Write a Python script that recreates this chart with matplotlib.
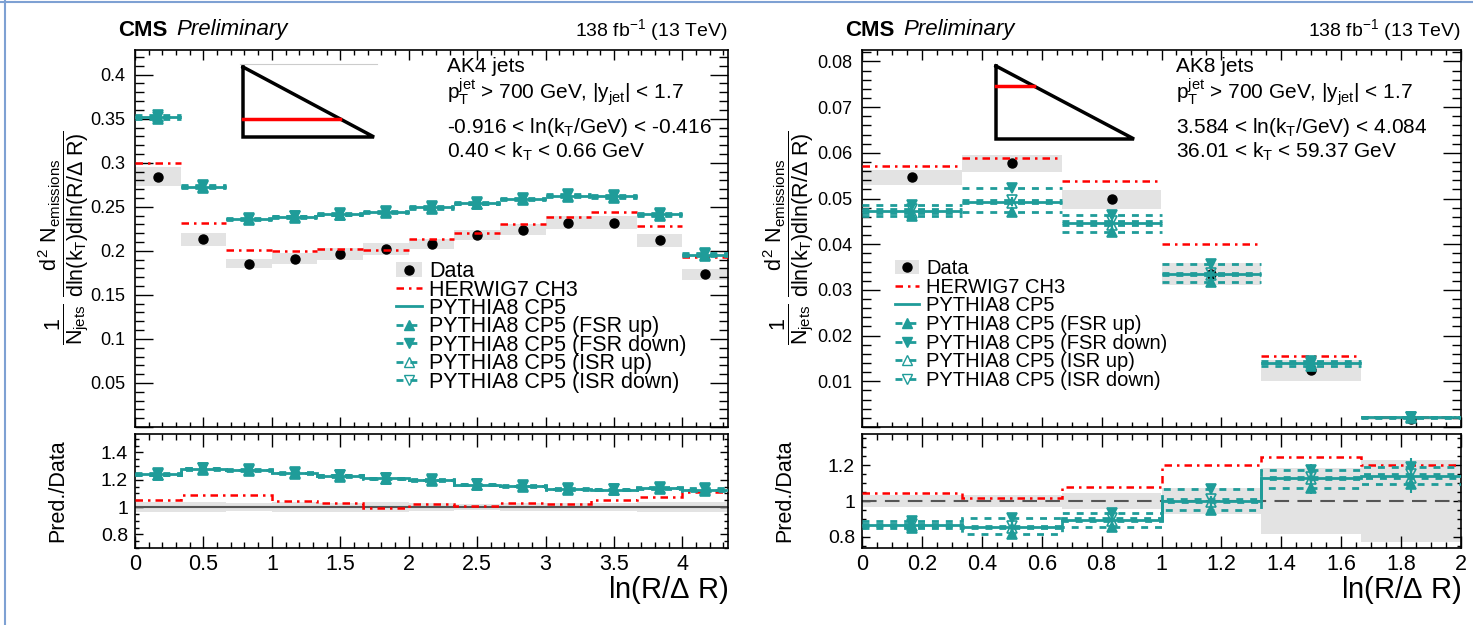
import matplotlib as mpl
import matplotlib.pyplot as plt
import numpy as np
from matplotlib.lines import Line2D
from matplotlib.patches import Patch
from matplotlib.ticker import MultipleLocator, FormatStrFormatter

plt.rcParams['font.family'] = ['Liberation Sans', 'DejaVu Sans']
plt.rcParams['mathtext.fontset'] = 'custom'
plt.rcParams['mathtext.rm'] = 'Liberation Sans'
plt.rcParams['mathtext.it'] = 'Liberation Sans'
plt.rcParams['mathtext.bf'] = 'Liberation Sans:bold'

TEAL = '#1f9c99'
RED = '#ff0000'
GREY = '#e3e3e3'
HERWIG_LS = (0, (3, 2, 1, 2))
DASH_LS = (0, (2.5, 2.5))

W, H = 1473, 625

# ---- AK4 panel, -0.916 < ln(kT/GeV) < -0.416 ----
ak4_edges = np.arange(14) / 3
ak4_data = [0.284, 0.213, 0.1855, 0.191, 0.1965, 0.202, 0.208, 0.218, 0.224, 0.232, 0.232, 0.212, 0.1735]
ak4_data_unc = [0.0107, 0.0073, 0.0054, 0.0065, 0.0065, 0.0068, 0.0060, 0.0055, 0.0065, 0.0075, 0.0075, 0.0075, 0.0063]
ak4_herwig = [0.2995, 0.2315, 0.2015, 0.1995, 0.2020, 0.2010, 0.2130, 0.2202, 0.2307, 0.2380, 0.2445, 0.2280, 0.1930]
ak4_pythia = [0.3520, 0.2730, 0.2360, 0.2389, 0.2416, 0.2443, 0.2492, 0.2538, 0.2588, 0.2626, 0.2618, 0.2416, 0.1957]
ak4_fsr_up = [0.3500, 0.2715, 0.2348, 0.2377, 0.2404, 0.2431, 0.2480, 0.2526, 0.2575, 0.2612, 0.2604, 0.2400, 0.1938]
ak4_fsr_dn = [0.3540, 0.2745, 0.2372, 0.2401, 0.2428, 0.2455, 0.2504, 0.2550, 0.2601, 0.2640, 0.2632, 0.2432, 0.1978]
ak4_isr_up = [0.3515, 0.2725, 0.2356, 0.2385, 0.2412, 0.2440, 0.2489, 0.2535, 0.2585, 0.2622, 0.2614, 0.2412, 0.1952]
ak4_isr_dn = [0.3525, 0.2735, 0.2364, 0.2393, 0.2420, 0.2446, 0.2495, 0.2541, 0.2591, 0.2630, 0.2622, 0.2420, 0.1962]
ak4_mc_unc = [0.0030, 0.0025, 0.0022, 0.0022, 0.0022, 0.0022, 0.0022, 0.0022, 0.0022, 0.0024, 0.0024, 0.0024, 0.0030]

# ---- AK8 panel, 3.584 < ln(kT/GeV) < 4.084 ----
ak8_edges = np.arange(7) / 3
ak8_data = [0.0546, 0.0577, 0.0498, 0.0334, 0.0124, 0.00185]
ak8_data_unc = [0.0017, 0.0019, 0.0021, 0.0024, 0.0023, 0.00042]
ak8_herwig = [0.0571, 0.0588, 0.0538, 0.0401, 0.01545, 0.00222]
ak8_pythia = [0.0473, 0.0493, 0.0446, 0.0334, 0.0140, 0.00211]
ak8_fsr_up = [0.0462, 0.0471, 0.0426, 0.0317, 0.0133, 0.00203]
ak8_fsr_dn = [0.0485, 0.0522, 0.0465, 0.0356, 0.01455, 0.00220]
ak8_isr_up = [0.0469, 0.0490, 0.0442, 0.0332, 0.0139, 0.00209]
ak8_isr_dn = [0.0477, 0.0497, 0.0450, 0.0337, 0.0141, 0.00213]
ak8_mc_unc = [0.0006, 0.0006, 0.0006, 0.0006, 0.0004, 0.0001]

legend_labels = ['Data', 'HERWIG7 CH3', 'PYTHIA8 CP5', 'PYTHIA8 CP5 (FSR up)',
                 'PYTHIA8 CP5 (FSR down)', 'PYTHIA8 CP5 (ISR up)', 'PYTHIA8 CP5 (ISR down)']
var_markers = [('^', True), ('v', True), ('^', False), ('v', False)]


def fig_box(x0, y0, x1, y1):
    # pixel box (top-left origin) -> figure fraction rect
    return [x0 / W, 1 - y1 / H, (x1 - x0) / W, (y1 - y0) / H]


def style_axes(ax, xlen, ylen):
    ax.tick_params(which='both', direction='in', top=True, right=True, width=1)
    ax.tick_params(axis='x', which='major', length=xlen)
    ax.tick_params(axis='x', which='minor', length=xlen / 2)
    ax.tick_params(axis='y', which='major', length=ylen)
    ax.tick_params(axis='y', which='minor', length=ylen / 2)
    for s in ax.spines.values():
        s.set_linewidth(1.2)


def draw_top(ax, edges, data, data_unc, herwig, pythia, variations, mc_unc):
    lo, hi = edges[:-1], edges[1:]
    centers = 0.5 * (lo + hi)
    d = np.asarray(data)
    du = np.asarray(data_unc)
    ax.bar(centers, 2 * du, bottom=d - du, width=hi - lo, color=GREY, zorder=1)
    ax.plot(centers, d, 'o', color='k', ms=6.5, zorder=2)
    ax.hlines(herwig, lo, hi, colors=RED, linestyles=[HERWIG_LS], lw=1.8, zorder=3)
    ax.hlines(pythia, lo, hi, colors=TEAL, lw=2, zorder=3)
    for vals, (m, filled) in zip(variations, var_markers):
        ax.hlines(vals, lo, hi, colors=TEAL, linestyles=[DASH_LS], lw=2, zorder=3)
        ax.errorbar(centers, vals, yerr=mc_unc, fmt=m, color=TEAL,
                    mfc=TEAL if filled else 'none', mec=TEAL, ms=7.5, mew=1.2,
                    elinewidth=1.5, capsize=0, zorder=4)


def draw_ratio(ax, edges, data, data_unc, herwig, pythia, variations, mc_unc, unity_ls):
    lo, hi = edges[:-1], edges[1:]
    centers = 0.5 * (lo + hi)
    d = np.asarray(data)
    rel = np.asarray(data_unc) / d
    ax.bar(centers, 2 * rel, bottom=1 - rel, width=hi - lo, color=GREY, zorder=1)
    ax.axhline(1, color='#555555', lw=1.5, ls=unity_ls, zorder=2)
    ax.stairs(np.asarray(herwig) / d, edges, baseline=None, color=RED, ls=HERWIG_LS, lw=1.8, zorder=3)
    ax.stairs(np.asarray(pythia) / d, edges, baseline=None, color=TEAL, lw=2, zorder=3)
    for vals, (m, filled) in zip(variations, var_markers):
        r = np.asarray(vals) / d
        ax.stairs(r, edges, baseline=None, color=TEAL, ls=DASH_LS, lw=2, zorder=3)
        ax.errorbar(centers, r, yerr=np.asarray(mc_unc) / d, fmt=m, color=TEAL,
                    mfc=TEAL if filled else 'none', mec=TEAL, ms=7.5, mew=1.2,
                    elinewidth=1.5, capsize=0, zorder=4)


def add_legend(ax, anchor, size, spacing):
    handles = [
        (Patch(facecolor=GREY, edgecolor='none'), Line2D([], [], marker='o', color='k', ls='none', ms=6.5)),
        Line2D([], [], color=RED, ls=HERWIG_LS, lw=1.8),
        Line2D([], [], color=TEAL, lw=2),
    ]
    for m, filled in var_markers:
        handles.append(Line2D([], [], color=TEAL, ls=DASH_LS, lw=2, marker=m, ms=7.5,
                              mfc=TEAL if filled else 'none', mec=TEAL))
    ax.legend(handles, legend_labels, loc='upper left', bbox_to_anchor=anchor, frameon=False,
              fontsize=size, handlelength=1.2, handletextpad=0.35, labelspacing=spacing,
              borderaxespad=0, borderpad=0)


def add_inset(box, frac, top_line=False):
    iax = fig.add_axes(fig_box(*box))
    iax.set_xlim(0, 1)
    iax.set_ylim(0, 1)
    iax.axis('off')
    iax.plot([0, 0, 1, 0], [1, 0, 0, 1], color='k', lw=2.5, solid_joinstyle='miter', clip_on=False)
    iax.plot([0, 1 - frac], [frac, frac], color=RED, lw=2.5, clip_on=False)
    if top_line:
        iax.plot([-0.02, 1.02], [1.04, 1.04], color='#cccccc', lw=0.8, clip_on=False)


fig = plt.figure(figsize=(W / 100, H / 100), dpi=100)

panels = [
    dict(x0=135, x1=728, edges=ak4_edges, data=ak4_data, unc=ak4_data_unc, herwig=ak4_herwig,
         pythia=ak4_pythia, var=[ak4_fsr_up, ak4_fsr_dn, ak4_isr_up, ak4_isr_dn], mc=ak4_mc_unc,
         ylim=(0, 0.428), ymaj=0.05, ymin=0.01, xmaj=0.5, xmin=0.1, rylim=(0.70, 1.535),
         unity='-', jets='AK4 jets',
         kt=['-0.916 < ln(k$_{T}$/GeV) < -0.416', '0.40 < k$_{T}$ < 0.66 GeV'],
         txt_x=447, inset=(243, 67, 374, 137), frac=0.257, top_line=True,
         leg=(0.44, 0.44), leg_size=15.5, leg_sp=-0.12, ylab_dx=71),
    dict(x0=862, x1=1461, edges=ak8_edges, data=ak8_data, unc=ak8_data_unc, herwig=ak8_herwig,
         pythia=ak8_pythia, var=[ak8_fsr_up, ak8_fsr_dn, ak8_isr_up, ak8_isr_dn], mc=ak8_mc_unc,
         ylim=(0, 0.0825), ymaj=0.01, ymin=0.002, xmaj=0.2, xmin=0.05, rylim=(0.737, 1.375),
         unity=(0, (7, 4)), jets='AK8 jets',
         kt=['3.584 < ln(k$_{T}$/GeV) < 4.084', '36.01 < k$_{T}$ < 59.37 GeV'],
         txt_x=1176, inset=(996, 66, 1134, 139), frac=0.726, top_line=False,
         leg=(0.055, 0.445), leg_size=14.5, leg_sp=-0.02, ylab_dx=73),
]

for p in panels:
    ax = fig.add_axes(fig_box(p['x0'], 50, p['x1'], 427))
    rax = fig.add_axes(fig_box(p['x0'], 434, p['x1'], 548))
    draw_top(ax, p['edges'], p['data'], p['unc'], p['herwig'], p['pythia'], p['var'], p['mc'])
    draw_ratio(rax, p['edges'], p['data'], p['unc'], p['herwig'], p['pythia'], p['var'], p['mc'], p['unity'])

    for a in (ax, rax):
        a.set_xlim(p['edges'][0], p['edges'][-1])
        a.xaxis.set_major_locator(MultipleLocator(p['xmaj']))
        a.xaxis.set_minor_locator(MultipleLocator(p['xmin']))
        a.xaxis.set_major_formatter(FormatStrFormatter('%g'))
    ax.set_ylim(*p['ylim'])
    ax.yaxis.set_major_locator(MultipleLocator(p['ymaj']))
    ax.yaxis.set_minor_locator(MultipleLocator(p['ymin']))
    ax.yaxis.set_major_formatter(lambda v, pos: '' if abs(v) < 1e-9 else '%g' % v)
    ax.tick_params(axis='x', labelbottom=False)
    ax.tick_params(axis='y', labelsize=13, pad=7)
    style_axes(ax, 7, 13)

    rax.set_ylim(*p['rylim'])
    rax.yaxis.set_major_locator(MultipleLocator(0.2))
    rax.yaxis.set_minor_locator(MultipleLocator(0.05))
    rax.yaxis.set_major_formatter(FormatStrFormatter('%g'))
    rax.tick_params(axis='y', labelsize=14, pad=5)
    rax.tick_params(axis='x', labelsize=15.5, pad=4)
    style_axes(rax, 9, 6)

    add_legend(ax, p['leg'], p['leg_size'], p['leg_sp'])

    tx = p['txt_x'] / W
    fig.text(tx, 1 - 67 / H, p['jets'], fontsize=15, va='center')
    fig.text(tx, 1 - 92 / H, r'p$_{T}^{jet}$ > 700 GeV, |y$_{jet}$| < 1.7', fontsize=15, va='center')
    fig.text(tx, 1 - 127 / H, p['kt'][0], fontsize=15, va='center')
    fig.text(tx, 1 - 152 / H, p['kt'][1], fontsize=15, va='center')

    add_inset(p['inset'], p['frac'], p['top_line'])

    # CMS header
    fig.text((p['x0'] - 17) / W, 1 - 30 / H, 'CMS', fontsize=16, fontweight='bold', va='center')
    fig.text((p['x0'] + 41) / W, 1 - 30 / H, 'Preliminary', fontsize=16, style='italic', va='center')
    fig.text(p['x1'] / W, 1 - 30 / H, '138 fb$^{-1}$ (13 TeV)', fontsize=14, ha='right', va='center')

    # axis titles
    fig.text((p['x0'] - p['ylab_dx']) / W, 1 - 238 / H,
             r'$\dfrac{1}{N_{jets}}\ \dfrac{d^{2}\ N_{emissions}}{dln(k_{T})dln(R/\Delta\ R)}$',
             fontsize=15.5, rotation=90, ha='center', va='center')
    fig.text((p['x0'] - 77) / W, 1 - 491 / H, 'Pred./Data', fontsize=15.5, rotation=90,
             ha='center', va='center')
    fig.text(p['x1'] / W, 1 - 590 / H, r'ln(R/$\Delta$ R)', fontsize=21, ha='right', va='center')

# slide border
fig.add_artist(Line2D([0, 1], [1 - 2 / H, 1 - 2 / H], color='#7ea1d3', lw=1.5))
fig.add_artist(Line2D([5 / W, 5 / W], [0, 1], color='#7ea1d3', lw=1.5))

fig.savefig('out.png', dpi=100)
